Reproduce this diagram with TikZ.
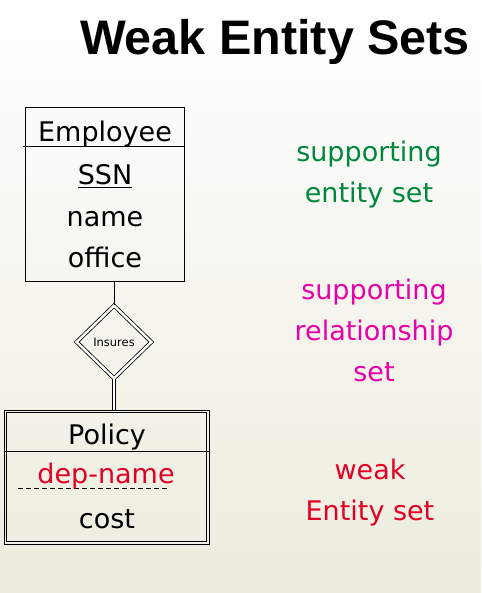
\documentclass[tikz,border=0pt]{standalone}
\usepackage{fontspec}
\setmainfont{DejaVu Sans}
\newfontfamily\titlefont{Liberation Sans}
\usetikzlibrary{shapes.geometric}
\definecolor{suppgreen}{RGB}{0,135,60}
\definecolor{suppmagenta}{RGB}{232,0,170}
\definecolor{weakred}{RGB}{228,0,36}
\definecolor{paperbottom}{RGB}{236,236,222}
\tikzset{
 entity/.style={draw, line width=0.9pt, minimum width=159pt, minimum height=174pt, inner sep=0pt},
 weakentity/.style={draw, line width=0.8pt, minimum width=205pt, minimum height=134pt, inner sep=0pt},
 weakrel/.style={draw, diamond, line width=0.8pt, double, double distance=2.4pt, minimum width=75pt, minimum height=73pt, inner sep=0pt, font=\fontsize{11.5}{12}\selectfont},
 attr/.style={anchor=base, font=\fontsize{27}{30}\selectfont},
 note/.style={anchor=base, align=center, font=\fontsize{27}{41}\selectfont},
 }

\begin{document}
\begin{tikzpicture}[x=1pt, y=-1pt]
        \fill[top color=white, bottom color=paperbottom] (0,0) rectangle (481,593);
        \useasboundingbox (0,0) rectangle (481,593);
        \node[anchor=base, font=\titlefont\bfseries\fontsize{48.5}{50}\selectfont] (title) at (275,55) {Weak Entity Sets};
        % supporting entity set
        \node[entity] (emp) at (104.5,194) {};
        \draw[line width=0.9pt] (23,146) -- (emp.east |- 0,146);
        \node[attr] (empname) at (105,142) {Employee};
        \node[attr] (ssn) at (105,185) {\underline{SSN}};
        \node[attr] (name) at (105,226) {name};
        \node[attr] (office) at (105,267) {office};
        % supporting relationship set
        \node[weakrel] (ins) at (114,342) {Insures};
        % weak entity set
        \node[weakentity] (pol) at (106.5,477) {};
        \draw[line width=0.8pt] ([shift={(3pt,-3pt)}]pol.north west) rectangle ([shift={(-3pt,3pt)}]pol.south east);
        \draw[line width=0.8pt] (pol.west |- 0,451) -- (pol.east |- 0,451);
        \node[attr] (polname) at (107,444) {Policy};
        \draw[dashed, dash pattern=on 5pt off 3pt, line width=0.8pt] (18,488) -- (167,488);
        \node[attr, text=weakred] (depname) at (106,483) {dep-name};
        \node[attr] (cost) at (107,528) {cost};
        \draw[line width=0.9pt] (emp.south -| ins.north) -- (ins.north);
        \draw[line width=0.8pt, double, double distance=2pt] (ins.south) -- (ins.south |- pol.north);
        % notes
        \node[note, text=suppgreen] (n1) at (369,203) {supporting\\entity set};
        \node[note, text=suppmagenta] (n2) at (374,381) {supporting\\relationship\\set};
        \node[note, text=weakred] (n3) at (370,520) {weak\\Entity set};
    \end{tikzpicture}
\end{document}
